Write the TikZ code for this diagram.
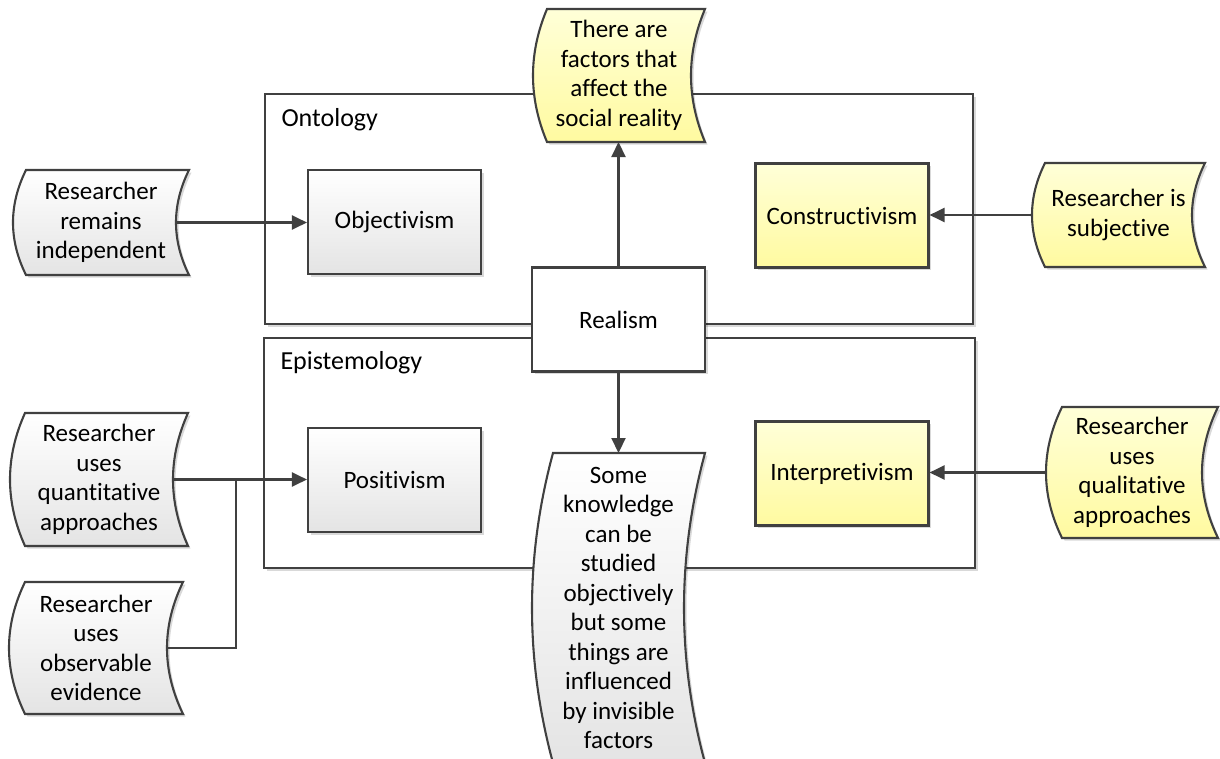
\documentclass[tikz,border=0pt]{standalone}
\usepackage{fontspec}
\setmainfont{Carlito}[Ligatures=NoCommon]
\usetikzlibrary{arrows.meta,shadows}
\definecolor{ink}{RGB}{64,64,64}
\definecolor{grayA}{RGB}{255,255,255}
\definecolor{grayB}{RGB}{228,228,228}
\definecolor{yelA}{RGB}{255,255,216}
\definecolor{yelB}{RGB}{255,250,160}
\tikzset{
  every node/.style={font=\fontsize{25}{29.5}\selectfont, text=black},
  edge line/.style={draw=ink, line width=2.1pt},
  softshadow/.style={drop shadow={shadow xshift=2.5pt, shadow yshift=-2.5pt, opacity=0.15, fill=black}},
  grayfill/.style={top color=grayA, bottom color=grayB},
  yellowfill/.style={top color=yelA, bottom color=yelB},
  framebox/.style={edge line, fill=white, softshadow, anchor=north west, inner sep=0pt},
  conceptbox/.style={edge line, softshadow, minimum width=173pt, minimum height=104pt, inner sep=0pt},
  framelabel/.style={anchor=west, font=\fontsize{26}{30}\selectfont},
  arrow/.style={edge line, -{Triangle[length=15pt,width=14pt]}},
}
% Curved "tape" shape: left side bulges outward, right side bulges inward.
% #1 name, #2 fill style, #3 left x, #4 right x, #5 top y, #6 bottom y, #7 bulge, #8 text
\newcommand\tape[8]{%
  \path[edge line, softshadow, #2]
    (#3,#5) -- (#4,#5)
    .. controls ({#4-1.333*#7},{#5+(#6-#5)/3}) and ({#4-1.333*#7},{#5+2*(#6-#5)/3}) .. (#4,#6)
    -- (#3,#6)
    .. controls ({#3-1.333*#7},{#5+2*(#6-#5)/3}) and ({#3-1.333*#7},{#5+(#6-#5)/3}) .. cycle;
  \node[align=center, inner sep=0pt] (#1) at ({(#3+#4)/2-#7/2},{(#5+#6)/2}) {#8};
  \coordinate (#1-w) at ({#3-#7},{(#5+#6)/2});
  \coordinate (#1-e) at ({#4-#7},{(#5+#6)/2});
  \coordinate (#1-n) at ({(#3+#4)/2},#5);
  \coordinate (#1-s) at ({(#3+#4)/2},#6);
}
\begin{document}
\begin{tikzpicture}[x=1pt, y=-1pt]
\useasboundingbox (0,0) rectangle (1220,758);
\clip (0,0) rectangle (1220,758);

% the two frames
\node[framebox, minimum width=708pt, minimum height=230pt] (onto) at (264,93) {};
\node[framelabel] (ontolabel) at (278,120) {Ontology};
\node[framebox, minimum width=711pt, minimum height=230pt] (epis) at (263,337) {};
\node[framelabel] (epislabel) at (277,363) {Epistemology};

% concept boxes
\node[conceptbox, fill=white] (real) at (618.5,319.5) {Realism};
\node[conceptbox, grayfill] (obj) at (394.5,222) {Objectivism};
\node[conceptbox, grayfill] (pos) at (394.5,480) {Positivism};
\node[conceptbox, yellowfill] (cons) at (842,215.5) {Constructivism};
\node[conceptbox, yellowfill] (interp) at (842,473.5) {Interpretivism};

% tapes
\tape{indep}{grayfill}{26}{189}{170}{275}{13}{Researcher\\remains\\independent}
\tape{subj}{yellowfill}{1045}{1205}{163}{267}{13}{Researcher is\\subjective}
\tape{factors}{yellowfill}{547}{705}{9}{142}{14}{There are\\factors that\\affect the\\social reality}
\tape{quant}{grayfill}{25}{188}{413}{546}{15}{Researcher\\uses\\quantitative\\approaches}
\tape{obs}{grayfill}{25}{183}{582}{714}{16}{Researcher\\uses\\observable\\evidence}
\tape{qual}{yellowfill}{1062}{1218}{407}{538}{16}{Researcher\\uses\\qualitative\\approaches}
\tape{some}{grayfill}{553}{705}{453}{763}{21}{Some\\knowledge\\can be\\studied\\objectively\\but some\\things are\\influenced\\by invisible\\factors}

% connectors
\coordinate (join) at (236,480);
\draw[arrow] (indep-e) -- (indep-e -| obj.west);
\draw[arrow] (subj-w) -- (subj-w -| cons.east);
\draw[arrow] (quant-e) -- (quant-e -| pos.west);
\draw[edge line] (obs-e) -| (join);
\draw[arrow] (qual-w) -- (qual-w -| interp.east);
\draw[arrow] (real.north) -- (real.north |- factors-s);
\draw[arrow] (real.south) -- (real.south |- some-n);
\end{tikzpicture}
\end{document}
